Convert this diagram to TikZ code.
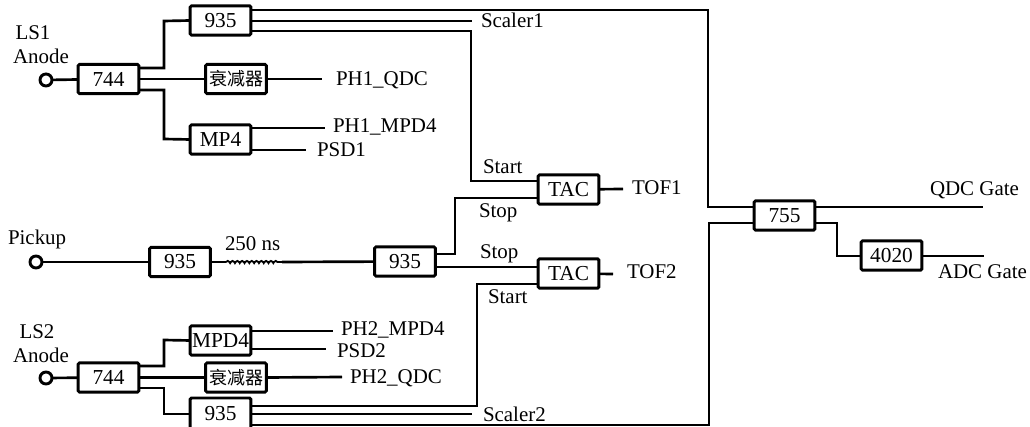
\documentclass[tikz,border=0pt]{standalone}
\usepackage{fontspec}
\setmainfont{Liberation Serif}
\newfontfamily\cjk{Noto Sans CJK SC}
\usetikzlibrary{calc,decorations.pathmorphing}
\tikzset{
  x=0.75pt,y=-0.75pt,
  boxn/.style={draw=black,line width=2.2pt,rounded corners=1pt,minimum width=45.5pt,minimum height=22pt,inner sep=0pt,outer sep=0pt,font=\fontsize{16}{16}\selectfont},
  atten/.style={boxn,font=\cjk\fontsize{13.5}{13.5}\selectfont},
  wire/.style={draw=black,line width=2pt,line join=miter},
  port/.style={circle,draw=black,line width=2.2pt,fill=white,minimum size=9pt,inner sep=0pt,outer sep=0pt},
  lab/.style={anchor=base west,inner sep=0pt,outer sep=0pt,font=\fontsize{15.7}{15.7}\selectfont},
  labc/.style={anchor=base,inner sep=0pt,outer sep=0pt,font=\fontsize{15.7}{15.7}\selectfont}
}
\begin{document}
\begin{tikzpicture}
\useasboundingbox (0,0) rectangle (1030,427);
% free ends
\coordinate (e1) at (322,79);
\coordinate (e2) at (325,128);
\coordinate (e3) at (306,150);
\coordinate (e4) at (472,21);
\coordinate (e5) at (623,189);
\coordinate (e6) at (613,274);
\coordinate (e7) at (333,331);
\coordinate (e8) at (326,349);
\coordinate (e9) at (342,377);
\coordinate (e10) at (472,414);
\coordinate (e11) at (983,207);
\coordinate (e12) at (984,256);
\coordinate (c1) at (226,262);
\coordinate (c2) at (282,262);
% boxes
\node[boxn] (t935) at (220.5,20.5) {935};
\node[boxn] (a744) at (108.5,79) {744};
\node[atten] (att1) at (236,79) {衰减器};
\node[boxn] (mp4) at (220.5,139.5) {MP4};
\node[boxn] (tac1) at (568.5,189.5) {TAC};
\node[boxn] (tac2) at (568.5,273.5) {TAC};
\node[boxn] (p935) at (180,262) {935};
\node[boxn] (m935) at (405,261.5) {935};
\node[boxn] (b744) at (108.5,377.5) {744};
\node[boxn] (mpd4) at (220.5,340.5) {MPD4};
\node[atten] (att2) at (236,377.5) {衰减器};
\node[boxn,minimum height=24pt] (b935) at (220.5,414) {935};
\node[boxn] (g755) at (784.5,215.5) {755};
\node[boxn] (g4020) at (891.5,255.5) {4020};
\node[port] (p1) at (46,80) {};
\node[port] (p2) at (36,262) {};
\node[port] (p3) at (46,378) {};
% LS1
\draw[wire] (p1) -- (a744);
\draw[wire] ($(a744.east)+(0,-11)$) -- (164,68) -- (164,21) -- (t935.west);
\draw[wire] (a744.east) -- (att1.west);
\draw[wire] ($(a744.east)+(0,11)$) -- (164,90) -- (164,139) -- (mp4.west);
\draw[wire] (att1.east) -- (e1);
\draw[wire] (mp4.east |- e2) -- (e2);
\draw[wire] (mp4.east |- e3) -- (e3);
\draw[wire] ($(t935.east)+(0,-10.5)$) -- (708,10) -- (708,207) -- (g755.west |- 0,207);
\draw[wire] (t935.east |- e4) -- (e4);
\draw[wire] ($(t935.east)+(0,10.5)$) -- (471,31) -- (471,181) -- (tac1.west |- 0,181);
% Pickup
\draw[wire] (p2) -- (p935);
\draw[wire] (p935) -- (c1);
\draw[line width=1.4pt,decorate,decoration={coil,aspect=0.5,amplitude=0.8pt,segment length=3.6pt}] (c1) -- (c2);
\draw[wire] (c2) -- (m935);
\draw[wire] ($(m935.east)+(0,-7.5)$) -- (455,254) -- (455,198) -- (tac1.west |- 0,198);
\draw[wire] (m935.east |- 0,267) -- (tac2.west |- 0,267);
\draw[wire] (tac1) -- (e5);
\draw[wire] (tac2) -- (e6);
% LS2
\draw[wire] (p3) -- (b744);
\draw[wire] ($(b744.east)+(0,-11.5)$) -- (164,366) -- (164,340) -- (mpd4.west);
\draw[wire] (b744.east) -- (att2.west);
\draw[wire] ($(b744.east)+(0,10.5)$) -- (164,388) -- (164,414) -- (b935.west |- 0,414);
\draw[wire] (mpd4.east |- e7) -- (e7);
\draw[wire] (mpd4.east |- e8) -- (e8);
\draw[wire] (att2.east) -- (e9);
\draw[wire] (b935.east |- 0,406) -- (477,406) -- (477,284) -- (tac2.west |- 0,284);
\draw[wire] (b935.east |- e10) -- (e10);
\draw[wire] (b935.east |- 0,425) -- (709,425) -- (709,223) -- (g755.west |- 0,223);
% Gate
\draw[wire] (g755.east |- e11) -- (e11);
\draw[wire] (g755.east |- 0,223) -- (837,223) -- (837,256) -- (g4020.west |- 0,256);
\draw[wire] (g4020.east |- e12) -- (e12);
% labels
\node[labc] (l1) at (33,40) {LS1};
\node[labc] (l2) at (41,64) {Anode};
\node[lab] (l3) at (336,86) {PH1\_QDC};
\node[lab] (l4) at (333,133) {PH1\_MPD4};
\node[lab] (l5) at (317,157) {PSD1};
\node[lab] (l6) at (481,28) {Scaler1};
\node[lab] (l7) at (483,174) {Start};
\node[lab] (l8) at (479,218) {Stop};
\node[lab] (l9) at (480,259) {Stop};
\node[lab] (l10) at (488,303) {Start};
\node[lab] (l11) at (632,195) {TOF1};
\node[lab] (l12) at (627,279) {TOF2};
\node[lab] (l13) at (930,196) {QDC Gate};
\node[lab] (l14) at (938,279) {ADC Gate};
\node[lab] (l15) at (8,245) {Pickup};
\node[lab] (l16) at (225,251) {250 ns};
\node[labc] (l17) at (37,338) {LS2};
\node[labc] (l18) at (41,362) {Anode};
\node[lab] (l19) at (341,335) {PH2\_MPD4};
\node[lab] (l20) at (337,357) {PSD2};
\node[lab] (l21) at (350,383) {PH2\_QDC};
\node[lab] (l22) at (483,421) {Scaler2};
\end{tikzpicture}
\end{document}
